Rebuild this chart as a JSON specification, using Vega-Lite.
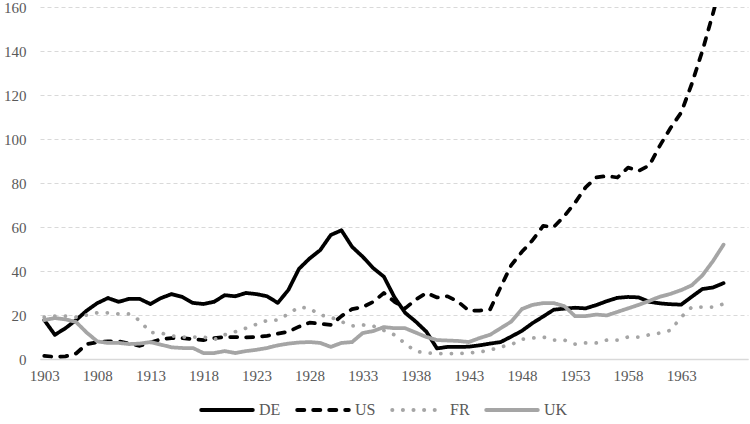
{
  "$schema": "https://vega.github.io/schema/vega-lite/v6.json",
  "width": 708,
  "height": 352,
  "autosize": {"type": "none"},
  "padding": {"left": 40, "top": 7, "right": 2, "bottom": 65},
  "background": "white",
  "config": {"view": {"stroke": null}, "font": "Liberation Serif"},
  "data": {"values": [
    {"year":1903,"country":"DE","value":17.7},{"year":1904,"country":"DE","value":11},{"year":1905,"country":"DE","value":14},{"year":1906,"country":"DE","value":17.7},{"year":1907,"country":"DE","value":22},{"year":1908,"country":"DE","value":25.4},{"year":1909,"country":"DE","value":27.7},{"year":1910,"country":"DE","value":26},{"year":1911,"country":"DE","value":27.3},{"year":1912,"country":"DE","value":27.3},{"year":1913,"country":"DE","value":25},{"year":1914,"country":"DE","value":27.7},{"year":1915,"country":"DE","value":29.5},{"year":1916,"country":"DE","value":28.2},{"year":1917,"country":"DE","value":25.5},{"year":1918,"country":"DE","value":25},{"year":1919,"country":"DE","value":26},{"year":1920,"country":"DE","value":29},{"year":1921,"country":"DE","value":28.5},{"year":1922,"country":"DE","value":30},{"year":1923,"country":"DE","value":29.5},{"year":1924,"country":"DE","value":28.5},{"year":1925,"country":"DE","value":25.5},{"year":1926,"country":"DE","value":31.4},{"year":1927,"country":"DE","value":41},{"year":1928,"country":"DE","value":45.7},{"year":1929,"country":"DE","value":49.5},{"year":1930,"country":"DE","value":56.4},{"year":1931,"country":"DE","value":58.5},{"year":1932,"country":"DE","value":51},{"year":1933,"country":"DE","value":46.5},{"year":1934,"country":"DE","value":41.3},{"year":1935,"country":"DE","value":37.4},{"year":1936,"country":"DE","value":28},{"year":1937,"country":"DE","value":21},{"year":1938,"country":"DE","value":17},{"year":1939,"country":"DE","value":12.4},{"year":1940,"country":"DE","value":4.8},{"year":1941,"country":"DE","value":5.5},{"year":1942,"country":"DE","value":5.5},{"year":1943,"country":"DE","value":5.6},{"year":1944,"country":"DE","value":6.2},{"year":1945,"country":"DE","value":7},{"year":1946,"country":"DE","value":7.7},{"year":1947,"country":"DE","value":10.2},{"year":1948,"country":"DE","value":12.8},{"year":1949,"country":"DE","value":16.3},{"year":1950,"country":"DE","value":19.3},{"year":1951,"country":"DE","value":22.4},{"year":1952,"country":"DE","value":22.9},{"year":1953,"country":"DE","value":23.3},{"year":1954,"country":"DE","value":23},{"year":1955,"country":"DE","value":24.5},{"year":1956,"country":"DE","value":26.3},{"year":1957,"country":"DE","value":27.8},{"year":1958,"country":"DE","value":28.2},{"year":1959,"country":"DE","value":28},{"year":1960,"country":"DE","value":26},{"year":1961,"country":"DE","value":25.3},{"year":1962,"country":"DE","value":24.9},{"year":1963,"country":"DE","value":24.7},{"year":1964,"country":"DE","value":28.3},{"year":1965,"country":"DE","value":31.8},{"year":1966,"country":"DE","value":32.5},{"year":1967,"country":"DE","value":34.5},
    {"year":1903,"country":"US","value":1.4},{"year":1904,"country":"US","value":1},{"year":1905,"country":"US","value":1.2},{"year":1906,"country":"US","value":2.5},{"year":1907,"country":"US","value":6.8},{"year":1908,"country":"US","value":7.6},{"year":1909,"country":"US","value":8},{"year":1910,"country":"US","value":8},{"year":1911,"country":"US","value":7},{"year":1912,"country":"US","value":6},{"year":1913,"country":"US","value":7.5},{"year":1914,"country":"US","value":9},{"year":1915,"country":"US","value":9.5},{"year":1916,"country":"US","value":9.5},{"year":1917,"country":"US","value":9},{"year":1918,"country":"US","value":8.6},{"year":1919,"country":"US","value":9.5},{"year":1920,"country":"US","value":10},{"year":1921,"country":"US","value":10},{"year":1922,"country":"US","value":9.8},{"year":1923,"country":"US","value":10},{"year":1924,"country":"US","value":10.5},{"year":1925,"country":"US","value":11.5},{"year":1926,"country":"US","value":12.4},{"year":1927,"country":"US","value":14.7},{"year":1928,"country":"US","value":16.5},{"year":1929,"country":"US","value":16},{"year":1930,"country":"US","value":15.5},{"year":1931,"country":"US","value":19.5},{"year":1932,"country":"US","value":22.7},{"year":1933,"country":"US","value":23.6},{"year":1934,"country":"US","value":26},{"year":1935,"country":"US","value":30},{"year":1936,"country":"US","value":26},{"year":1937,"country":"US","value":23},{"year":1938,"country":"US","value":27},{"year":1939,"country":"US","value":30},{"year":1940,"country":"US","value":28},{"year":1941,"country":"US","value":28.5},{"year":1942,"country":"US","value":26},{"year":1943,"country":"US","value":22},{"year":1944,"country":"US","value":22},{"year":1945,"country":"US","value":22.5},{"year":1946,"country":"US","value":32.7},{"year":1947,"country":"US","value":42.7},{"year":1948,"country":"US","value":48.7},{"year":1949,"country":"US","value":54},{"year":1950,"country":"US","value":60.5},{"year":1951,"country":"US","value":60},{"year":1952,"country":"US","value":65},{"year":1953,"country":"US","value":71},{"year":1954,"country":"US","value":78},{"year":1955,"country":"US","value":82.5},{"year":1956,"country":"US","value":83.2},{"year":1957,"country":"US","value":82.5},{"year":1958,"country":"US","value":87},{"year":1959,"country":"US","value":85.5},{"year":1960,"country":"US","value":88},{"year":1961,"country":"US","value":97},{"year":1962,"country":"US","value":105},{"year":1963,"country":"US","value":112},{"year":1964,"country":"US","value":125},{"year":1965,"country":"US","value":140},{"year":1966,"country":"US","value":157},{"year":1967,"country":"US","value":175},
    {"year":1903,"country":"FR","value":19},{"year":1904,"country":"FR","value":19.5},{"year":1905,"country":"FR","value":19.5},{"year":1906,"country":"FR","value":19},{"year":1907,"country":"FR","value":20},{"year":1908,"country":"FR","value":21},{"year":1909,"country":"FR","value":21},{"year":1910,"country":"FR","value":20.5},{"year":1911,"country":"FR","value":20.5},{"year":1912,"country":"FR","value":17.5},{"year":1913,"country":"FR","value":12},{"year":1914,"country":"FR","value":11.8},{"year":1915,"country":"FR","value":10.5},{"year":1916,"country":"FR","value":10},{"year":1917,"country":"FR","value":10},{"year":1918,"country":"FR","value":10},{"year":1919,"country":"FR","value":8.8},{"year":1920,"country":"FR","value":11},{"year":1921,"country":"FR","value":12.4},{"year":1922,"country":"FR","value":14},{"year":1923,"country":"FR","value":15.8},{"year":1924,"country":"FR","value":17.5},{"year":1925,"country":"FR","value":17.7},{"year":1926,"country":"FR","value":20.5},{"year":1927,"country":"FR","value":23.6},{"year":1928,"country":"FR","value":23},{"year":1929,"country":"FR","value":20},{"year":1930,"country":"FR","value":19},{"year":1931,"country":"FR","value":17},{"year":1932,"country":"FR","value":15},{"year":1933,"country":"FR","value":15.5},{"year":1934,"country":"FR","value":15},{"year":1935,"country":"FR","value":13},{"year":1936,"country":"FR","value":11},{"year":1937,"country":"FR","value":7},{"year":1938,"country":"FR","value":3.5},{"year":1939,"country":"FR","value":2.7},{"year":1940,"country":"FR","value":2.5},{"year":1941,"country":"FR","value":2.5},{"year":1942,"country":"FR","value":2.5},{"year":1943,"country":"FR","value":2.7},{"year":1944,"country":"FR","value":3.2},{"year":1945,"country":"FR","value":4},{"year":1946,"country":"FR","value":5.5},{"year":1947,"country":"FR","value":6.5},{"year":1948,"country":"FR","value":9},{"year":1949,"country":"FR","value":9.5},{"year":1950,"country":"FR","value":10},{"year":1951,"country":"FR","value":8.6},{"year":1952,"country":"FR","value":8.6},{"year":1953,"country":"FR","value":6.8},{"year":1954,"country":"FR","value":7.3},{"year":1955,"country":"FR","value":7.3},{"year":1956,"country":"FR","value":8.6},{"year":1957,"country":"FR","value":8.6},{"year":1958,"country":"FR","value":10},{"year":1959,"country":"FR","value":10},{"year":1960,"country":"FR","value":11},{"year":1961,"country":"FR","value":11.8},{"year":1962,"country":"FR","value":13},{"year":1963,"country":"FR","value":19},{"year":1964,"country":"FR","value":23.6},{"year":1965,"country":"FR","value":23.6},{"year":1966,"country":"FR","value":23.6},{"year":1967,"country":"FR","value":25},
    {"year":1903,"country":"UK","value":17.7},{"year":1904,"country":"UK","value":18.6},{"year":1905,"country":"UK","value":18},{"year":1906,"country":"UK","value":16.8},{"year":1907,"country":"UK","value":12},{"year":1908,"country":"UK","value":8},{"year":1909,"country":"UK","value":7.3},{"year":1910,"country":"UK","value":7.3},{"year":1911,"country":"UK","value":6.8},{"year":1912,"country":"UK","value":7},{"year":1913,"country":"UK","value":7.7},{"year":1914,"country":"UK","value":6.5},{"year":1915,"country":"UK","value":5.3},{"year":1916,"country":"UK","value":5},{"year":1917,"country":"UK","value":5},{"year":1918,"country":"UK","value":2.7},{"year":1919,"country":"UK","value":2.7},{"year":1920,"country":"UK","value":3.6},{"year":1921,"country":"UK","value":2.7},{"year":1922,"country":"UK","value":3.6},{"year":1923,"country":"UK","value":4.2},{"year":1924,"country":"UK","value":5},{"year":1925,"country":"UK","value":6.2},{"year":1926,"country":"UK","value":7},{"year":1927,"country":"UK","value":7.5},{"year":1928,"country":"UK","value":7.7},{"year":1929,"country":"UK","value":7.3},{"year":1930,"country":"UK","value":5.5},{"year":1931,"country":"UK","value":7.3},{"year":1932,"country":"UK","value":7.7},{"year":1933,"country":"UK","value":11.8},{"year":1934,"country":"UK","value":12.7},{"year":1935,"country":"UK","value":14.5},{"year":1936,"country":"UK","value":14},{"year":1937,"country":"UK","value":14},{"year":1938,"country":"UK","value":12},{"year":1939,"country":"UK","value":10},{"year":1940,"country":"UK","value":8.6},{"year":1941,"country":"UK","value":8.4},{"year":1942,"country":"UK","value":8.2},{"year":1943,"country":"UK","value":7.7},{"year":1944,"country":"UK","value":9.5},{"year":1945,"country":"UK","value":11},{"year":1946,"country":"UK","value":14},{"year":1947,"country":"UK","value":17},{"year":1948,"country":"UK","value":22.7},{"year":1949,"country":"UK","value":24.6},{"year":1950,"country":"UK","value":25.4},{"year":1951,"country":"UK","value":25.4},{"year":1952,"country":"UK","value":24},{"year":1953,"country":"UK","value":19.5},{"year":1954,"country":"UK","value":19.5},{"year":1955,"country":"UK","value":20.2},{"year":1956,"country":"UK","value":19.8},{"year":1957,"country":"UK","value":21.4},{"year":1958,"country":"UK","value":23},{"year":1959,"country":"UK","value":24.6},{"year":1960,"country":"UK","value":26.4},{"year":1961,"country":"UK","value":28.3},{"year":1962,"country":"UK","value":29.6},{"year":1963,"country":"UK","value":31.3},{"year":1964,"country":"UK","value":33.5},{"year":1965,"country":"UK","value":38},{"year":1966,"country":"UK","value":44.5},{"year":1967,"country":"UK","value":52}
  ]},
  "mark": {"type": "line", "clip": true, "strokeWidth": 3.75, "strokeCap": "round", "strokeJoin": "round"},
  "encoding": {
    "x": {
      "field": "year", "type": "quantitative",
      "scale": {"domain": [1902.6, 1969.3], "nice": false, "zero": false},
      "axis": {"values": [1903,1908,1913,1918,1923,1928,1933,1938,1943,1948,1953,1958,1963], "format": "d", "title": null, "grid": false, "ticks": false, "domainColor": "#d9d9d9", "domainWidth": 1.5, "labelPadding": 9, "labelFontSize": 15, "labelColor": "#595959", "labelFont": "Liberation Serif"}
    },
    "y": {
      "field": "value", "type": "quantitative",
      "scale": {"domain": [0, 160], "nice": false},
      "axis": {"values": [0,20,40,60,80,100,120,140,160], "title": null, "domain": false, "ticks": false, "grid": true, "gridColor": "#d9d9d9", "gridDash": [4, 3], "gridWidth": 1, "labelPadding": 14, "labelFontSize": 15, "labelColor": "#595959", "labelFont": "Liberation Serif"}
    },
    "color": {
      "field": "country", "type": "nominal",
      "scale": {"domain": ["DE","US","FR","UK"], "range": ["#000000","#000000","#a5a5a5","#a5a5a5"]},
      "legend": {"title": null, "orient": "none", "legendX": 159, "legendY": 375, "direction": "horizontal", "symbolType": "stroke", "symbolSize": 2650, "symbolStrokeWidth": 4, "labelFontSize": 16, "labelColor": "#595959", "labelFont": "Liberation Serif", "labelOffset": 4, "columnPadding": 8, "encode": {"symbols": {"update": {"strokeCap": {"value": "round"}}}}}
    },
    "strokeDash": {
      "field": "country", "type": "nominal",
      "scale": {"domain": ["DE","US","FR","UK"], "range": [[1,0],[7,9],[0.1,10.5],[1,0]]},
      "legend": {"title": null, "orient": "none", "legendX": 159, "legendY": 375, "direction": "horizontal", "symbolType": "stroke", "symbolSize": 2650, "symbolStrokeWidth": 4, "labelFontSize": 16, "labelColor": "#595959", "labelFont": "Liberation Serif", "labelOffset": 4, "columnPadding": 8, "encode": {"symbols": {"update": {"strokeCap": {"value": "round"}}}}}
    }
  }
}
